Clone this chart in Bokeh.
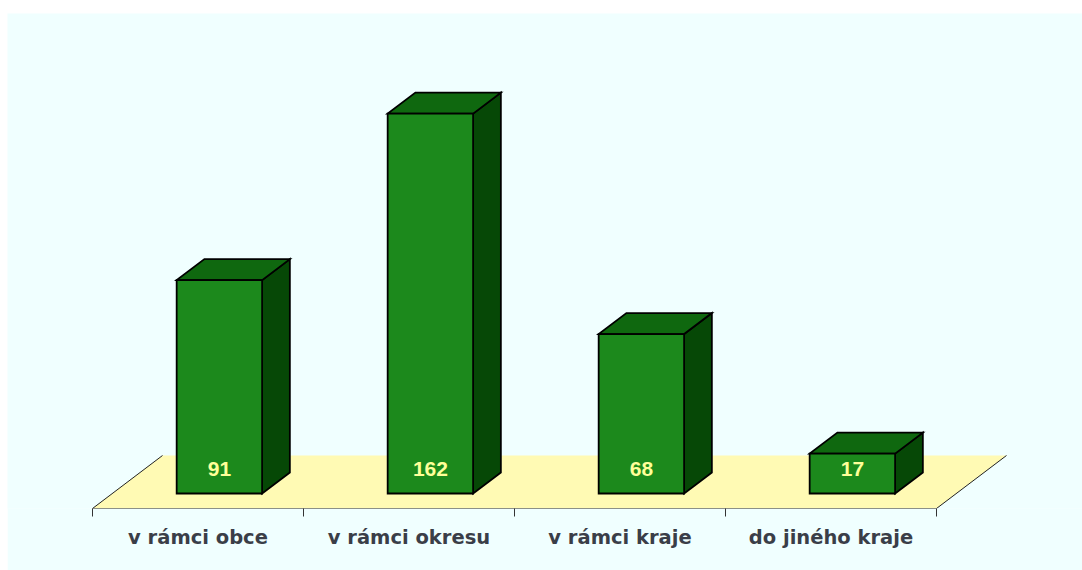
from bokeh.plotting import figure
from bokeh.models import Range1d, FixedTicker, LinearAxis, Spacer
from bokeh.layouts import column, row
from bokeh.core.properties import value
from bokeh.embed import file_html
from bokeh.resources import INLINE

# ---- data ----
categories = ["v rámci obce", "v rámci okresu", "v rámci kraje", "do jiného kraje"]
values = [91, 162, 68, 17]

# ---- geometry (data units) ----
PX_X = 211.0           # pixels per category
PX_Y = 2.345           # pixels per value unit
DX = 70 / PX_X         # floor depth, x component (category units)
DY = 53 / PX_Y         # floor depth, y component (value units)
Y0 = -15 / PX_Y        # floor front level
ZF = 15 / 53.0         # bar front depth
ZB = 36 / 53.0         # bar back depth
BAR_L, BAR_R = 0.305, 0.71

FRONT = "#1C891C"
TOP = "#0F680F"
SIDE = "#064806"
BG = "#F0FFFF"

W, H = 1075, 557
p = figure(width=W, height=H, output_backend="svg", toolbar_location=None,
           x_range=Range1d(-85 / PX_X, (W - 85) / PX_X),
           y_range=Range1d(-15 / PX_Y, 480 / PX_Y),
           x_axis_location=None, y_axis_location=None,
           min_border_left=0, min_border_right=0, min_border_top=0, min_border_bottom=H - 495)
p.background_fill_color = BG
p.border_fill_color = BG
p.outline_line_color = None
p.grid.visible = False

n = len(categories)
# floor
fx = [0, n, n + DX, DX]
fy = [Y0, Y0, Y0 + DY, Y0 + DY]
p.patch(fx, fy, fill_color="#FFFAB4", line_color=None)
p.multi_line([[DX, 0, n, n + DX]], [[Y0 + DY, Y0, Y0, Y0 + DY]], line_color="#222222", line_width=1)

# bars
sb = Y0 + ZF * DY
dxb = (ZB - ZF) * DX
dyb = (ZB - ZF) * DY
fronts_x, fronts_y, tops_x, tops_y, sides_x, sides_y = [], [], [], [], [], []
for i, v in enumerate(values):
    xl = i + BAR_L + ZF * DX
    xr = i + BAR_R + ZF * DX
    st = sb + v
    fronts_x.append([xl, xr, xr, xl])
    fronts_y.append([sb, sb, st, st])
    tops_x.append([xl, xr, xr + dxb, xl + dxb])
    tops_y.append([st, st, st + dyb, st + dyb])
    sides_x.append([xr, xr + dxb, xr + dxb, xr])
    sides_y.append([sb, sb + dyb, st + dyb, st])

p.patches(sides_x, sides_y, fill_color=SIDE, line_color="black", line_width=1.8, line_join="miter")
p.patches(tops_x, tops_y, fill_color=TOP, line_color="black", line_width=1.8, line_join="miter")
p.patches(fronts_x, fronts_y, fill_color=FRONT, line_color="black", line_width=1.8, line_join="miter")

lx = [i + (BAR_L + BAR_R) / 2 + ZF * DX for i in range(n)]
ly = [sb + 25 / PX_Y] * n
p.text(lx, ly, text=[str(v) for v in values], text_align="center", text_baseline="middle",
       text_color="#FFFF99", text_font_size="21px", text_font_style="bold",
       text_font=value("Liberation Sans"))

# category axis
xaxis = LinearAxis(ticker=FixedTicker(ticks=[i + 0.5 for i in range(n)], minor_ticks=list(range(n + 1))))
xaxis.major_label_overrides = {i + 0.5: c for i, c in enumerate(categories)}
xaxis.axis_line_color = None
xaxis.major_tick_line_color = None
xaxis.major_tick_out = 0
xaxis.major_tick_in = 0
xaxis.minor_tick_line_color = "#333333"
xaxis.minor_tick_out = 8
xaxis.minor_tick_in = 0
xaxis.major_label_standoff = 9
xaxis.major_label_text_font = "DejaVu Sans"
xaxis.major_label_text_font_style = "bold"
xaxis.major_label_text_font_size = "19.5px"
xaxis.major_label_text_color = "#3A3E48"
p.add_layout(xaxis, "below")

layout = row(Spacer(width=7, height=H), column(Spacer(width=W, height=13), p))
open("out.html", "w").write(file_html(layout, INLINE))
